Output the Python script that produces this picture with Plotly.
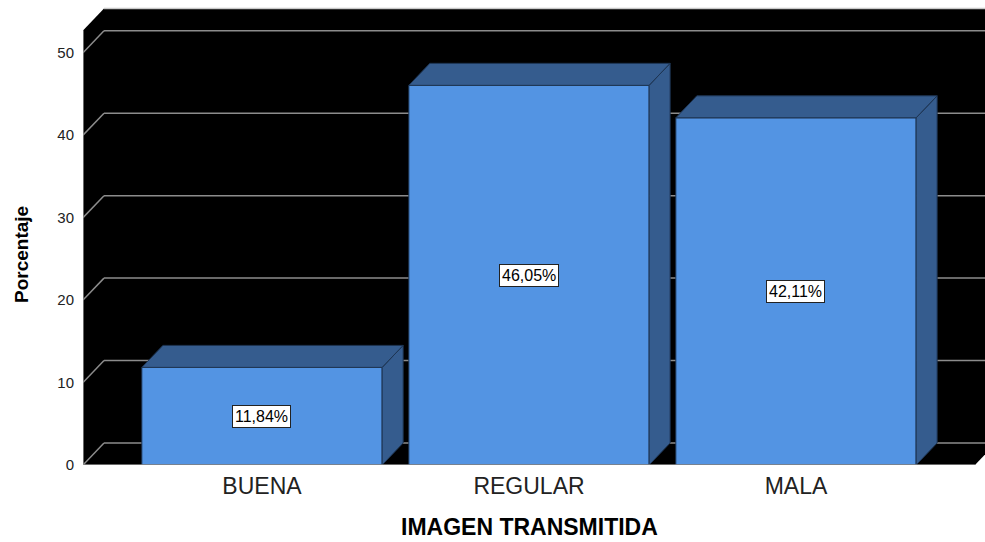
import plotly.graph_objects as go

# Data
categories = ["BUENA", "REGULAR", "MALA"]
percentages = [11.84, 46.05, 42.11]
y_ticks = [0, 10, 20, 30, 40, 50]

# Pseudo-3D geometry (in data units)
BAR_W = 0.9
DX = 0.0787          # depth offset along x
DY = 2.667           # depth offset along y
X0 = -0.6704         # front-left edge of the box
X1 = 2.6704          # front-right edge of the box
FRONT_TOP = 52.7
X_MAX = 2.708
Y_MAX = 55.55

FRONT = "#5394E3"
SHADE = "#355C8E"
EDGE = "#1E3553"
GRID = "#8C8C8C"
FONT = "Liberation Sans, Arial, sans-serif"

xs = list(range(len(categories)))

fig = go.Figure()

# Front faces of the bars
fig.add_trace(go.Bar(
    x=xs, y=percentages, width=BAR_W,
    marker=dict(color=FRONT, line=dict(color=EDGE, width=1)),
    hoverinfo="skip", showlegend=False,
))

# Side and top faces
for c, v in zip(xs, percentages):
    l, r = c - BAR_W / 2, c + BAR_W / 2
    fig.add_trace(go.Scatter(
        x=[r, r + DX, r + DX, r, r], y=[0, DY, v + DY, v, 0],
        mode="lines", fill="toself", fillcolor=SHADE,
        line=dict(color=EDGE, width=1), hoverinfo="skip", showlegend=False,
    ))
    fig.add_trace(go.Scatter(
        x=[l, l + DX, r + DX, r, l], y=[v, v + DY, v + DY, v, v],
        mode="lines", fill="toself", fillcolor=SHADE,
        line=dict(color=EDGE, width=1), hoverinfo="skip", showlegend=False,
    ))

shapes = []
# Black box: left wall, back wall and floor
box = [(X0, 0), (X0, FRONT_TOP), (X0 + DX, FRONT_TOP + DY),
       (X1 + DX, FRONT_TOP + DY), (X1 + DX, DY), (X1, 0)]
path = "M " + " L ".join(f"{x},{y}" for x, y in box) + " Z"
shapes.append(dict(type="path", path=path, xref="x", yref="y",
                   fillcolor="black", line=dict(width=0), layer="below"))
# Gridlines on the left wall and back wall
for t in y_ticks:
    shapes.append(dict(type="line", xref="x", yref="y", x0=X0, y0=t,
                       x1=X0 + DX, y1=t + DY, line=dict(color=GRID, width=1.5),
                       layer="below"))
    shapes.append(dict(type="line", xref="x", yref="y", x0=X0 + DX, y0=t + DY,
                       x1=X1 + DX, y1=t + DY, line=dict(color=GRID, width=1.5),
                       layer="below"))
# Box edges
shapes.append(dict(type="line", xref="x", yref="y", x0=X0 + DX, y0=FRONT_TOP + DY,
                   x1=X1 + DX, y1=FRONT_TOP + DY, line=dict(color="#C8C8C8", width=1.5),
                   layer="below"))
shapes.append(dict(type="line", xref="x", yref="y", x0=X0, y0=0, x1=X0, y1=FRONT_TOP,
                   line=dict(color=GRID, width=1.5), layer="below"))
shapes.append(dict(type="line", xref="x", yref="y", x0=X0, y0=0, x1=X1, y1=0,
                   line=dict(color=GRID, width=1.5)))

annotations = []
for c, v in zip(xs, percentages):
    annotations.append(dict(
        x=c, y=v / 2, xref="x", yref="y",
        text=f"{v:.2f}%".replace(".", ","), showarrow=False,
        font=dict(family=FONT, size=16, color="black"),
        bgcolor="white", bordercolor="#222", borderwidth=1, borderpad=2,
    ))
# Axis titles
annotations.append(dict(
    x=-61 / 902, y=(465 - 255) / 458, xref="paper", yref="paper",
    text="<b>Porcentaje</b>", textangle=-90, showarrow=False,
    font=dict(family=FONT, size=19, color="black"),
    xanchor="center", yanchor="middle",
))
annotations.append(dict(
    x=(529 - 83) / 902, y=-(541 - 465) / 458, xref="paper", yref="paper",
    text="<b>IMAGEN TRANSMITIDA</b>", showarrow=False,
    font=dict(family=FONT, size=23, color="black"),
    xanchor="center", yanchor="bottom", borderpad=0,
))

fig.update_layout(
    width=985, height=542,
    margin=dict(l=83, r=0, t=7, b=77),
    paper_bgcolor="white", plot_bgcolor="white",
    shapes=shapes, annotations=annotations,
    showlegend=False,
    xaxis=dict(
        range=[X0, X_MAX], tickvals=xs, ticktext=categories,
        showgrid=False, zeroline=False, showline=False, ticks="",
        ticklabelstandoff=5,
        tickfont=dict(family=FONT, size=23, color="#222"),
    ),
    yaxis=dict(
        range=[0, Y_MAX], tickvals=y_ticks,
        showgrid=False, zeroline=False, showline=False, ticks="",
        ticklabelstandoff=8,
        tickfont=dict(family=FONT, size=15, color="#222"),
    ),
)

fig.write_html("out.html")
